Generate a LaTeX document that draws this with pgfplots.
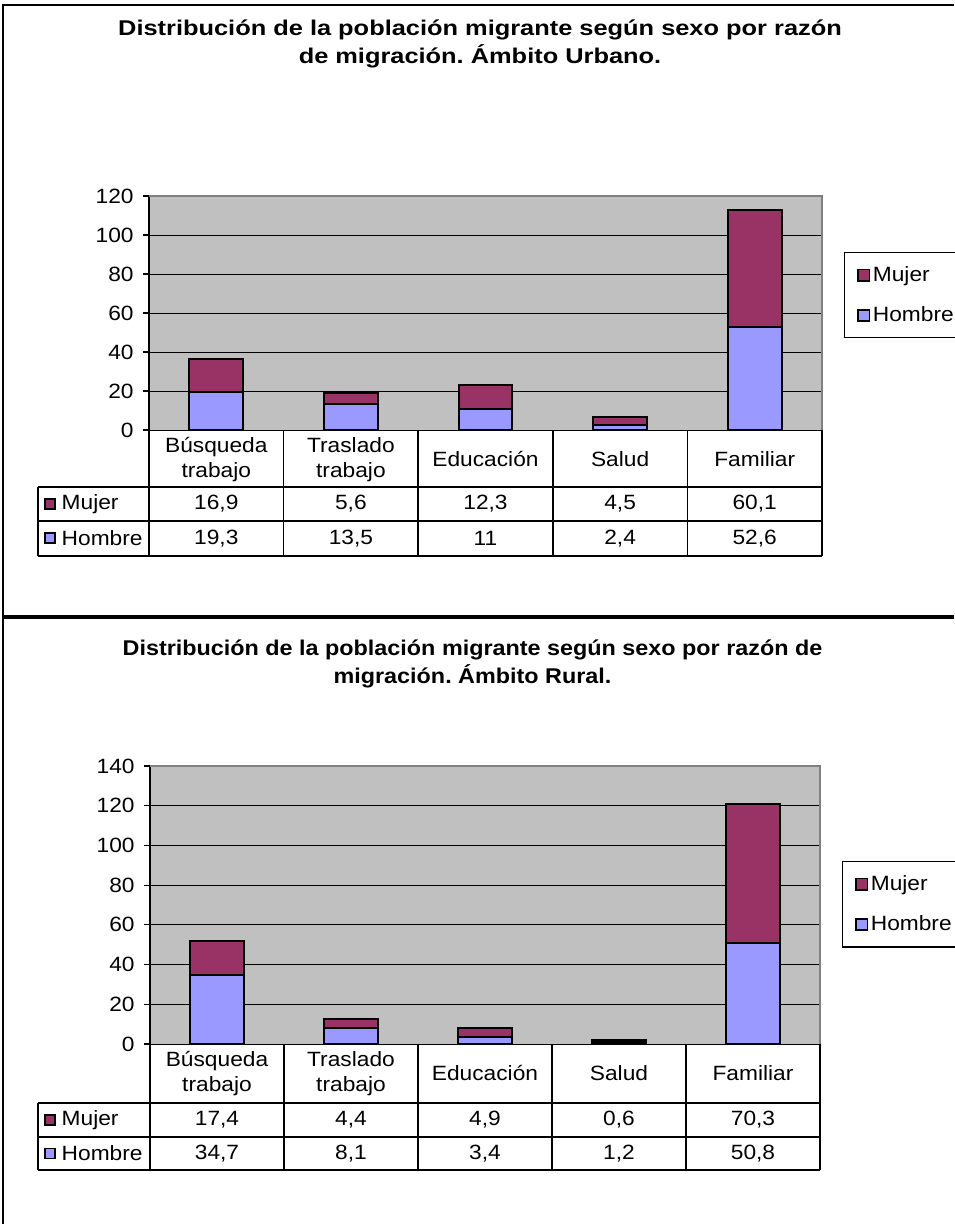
\documentclass[border=0pt]{standalone}
\usepackage{pgfplots}
\pgfplotsset{compat=1.18}
\usepackage{pgfplotstable}
\usepackage{fontspec}
\setmainfont{Liberation Sans}[FakeStretch=1.1]
\newfontfamily\titlefont{Liberation Sans}[FakeStretch=1.19]
\newfontfamily\titlefontb{Liberation Sans}[FakeStretch=1.095]
\frenchspacing

\definecolor{mujer}{HTML}{993366}
\definecolor{hombre}{HTML}{9999FF}
\definecolor{plotbg}{HTML}{C0C0C0}
\definecolor{rim}{HTML}{808080}

\newcommand{\tf}{\fontsize{15.5}{18.75}\selectfont}

% Migrant population by sex and reason (urban / rural)
\pgfplotstableread{
idx hombre mujer
0 19.3 16.9
1 13.5 5.6
2 11 12.3
3 2.4 4.5
4 52.6 60.1
}\urbano
\pgfplotstableread{
idx hombre mujer
0 34.7 17.4
1 8.1 4.4
2 3.4 4.9
3 1.2 0.6
4 50.8 70.3
}\rural

\pgfplotsset{
  migr/.style={
    scale only axis,
    anchor=south west,
    ybar stacked,
    bar width=0.4,
    xmin=-0.5, xmax=4.5,
    ymin=0,
    xtick={0,...,4},
    xticklabels={{Búsqueda\\trabajo},{Traslado\\trabajo},Educación,Salud,Familiar},
    xticklabel style={align=center, anchor=center, font=\tf, yshift=-17.6pt},
    x tick style={draw=none},
    ytick distance=20,
    ymajorgrids,
    major grid style={black, line width=0.6pt},
    y tick style={black, line width=0.8pt},
    tick align=outside,
    ytick pos=left,
    major tick length=4.5pt,
    yticklabel style={font=\tf, xshift=-3.5pt},
    /pgf/number format/assume math mode=true,
    axis background/.style={fill=plotbg},
    axis line style={draw=none},
    clip=false,
    legend cell align=left,
    reverse legend,
    legend style={anchor=north west, draw=black, line width=0.9pt, fill=white,
      font=\tf, inner xsep=9.5pt, inner ysep=8.5pt, row sep=13.5pt},
    legend image code/.code={\draw[##1, draw=black, line width=1.2pt] (0pt,-4.25pt) rectangle (8.5pt,4.25pt);},
  }
}

\begin{document}
\begin{tikzpicture}[x=0.75pt, y=-0.75pt]
\path[use as bounding box] (0,0) rectangle (954,1224);

% outer frame and separator
\draw[line width=1.5pt] (3,1224) -- (3,5) -- (954,5);
\draw[line width=3pt] (3,617) -- (954,617);

% titles
\node[font=\titlefont\bfseries\fontsize{16}{21}\selectfont, align=center] at (480,44)
  {Distribución de la población migrante según sexo por razón\\de migración. Ámbito Urbano.};
\node[font=\titlefontb\bfseries\fontsize{16}{21}\selectfont, align=center] at (472.5,664)
  {Distribución de la población migrante según sexo por razón de\\migración. Ámbito Rural.};

% ---------- urban ----------
\begin{axis}[migr, at={(111.75pt,-322.5pt)}, width=504.75pt, height=175.5pt,
  ymax=120, legend style={at={(axis description cs:1.0327,0.7607)}}]
  \addplot[fill=hombre, draw=black, line width=1.5pt] table[x=idx, y=hombre] {\urbano};
  \addlegendentry{Hombre}
  \addplot[fill=mujer, draw=black, line width=1.5pt] table[x=idx, y=mujer] {\urbano};
  \addlegendentry{Mujer}
  \draw[rim, line width=0.9pt] (rel axis cs:0,1) -- (rel axis cs:1,1) -- (rel axis cs:1,0);
  \draw[black, line width=1.2pt] (rel axis cs:0,0) -- (rel axis cs:0,1);
\end{axis}

% urban data table
\begin{scope}[line width=1.1pt]
  \draw (149,430) -- (149,556);
  \foreach \k in {1,...,5} \draw ({149+134.6*\k},430) -- ({149+134.6*\k},556);
  \draw (38,487) -- (822,487);
  \draw (38,521) -- (822,521);
  \draw (38,556) -- (822,556);
  \draw (38,487) -- (38,556);
  \draw[fill=mujer, line width=1.2pt] (45,499) rectangle (55,509);
  \draw[fill=hombre, line width=1.2pt] (45,533) rectangle (55,543);
  \node[font=\tf, anchor=west, inner xsep=0pt] at (61,504) {Mujer};
  \node[font=\tf, anchor=west, inner xsep=0pt] at (61,538.5) {Hombre};
\end{scope}
\foreach \i in {0,...,4} {
  \pgfplotstablegetelem{\i}{mujer}\of\urbano
  \node[font=\tf] at ({149+134.6*(\i+0.5)},504)
    {\pgfmathprintnumber[fixed, precision=1, use comma, assume math mode=true]{\pgfplotsretval}};
  \pgfplotstablegetelem{\i}{hombre}\of\urbano
  \node[font=\tf] at ({149+134.6*(\i+0.5)},538.5)
    {\pgfmathprintnumber[fixed, precision=1, use comma, assume math mode=true]{\pgfplotsretval}};
}

% ---------- rural ----------
\begin{axis}[migr, at={(112.5pt,-783pt)}, width=502.5pt, height=208.5pt,
  ymax=140, legend style={at={(axis description cs:1.0328,0.658)}}]
  \addplot[fill=hombre, draw=black, line width=1.5pt] table[x=idx, y=hombre] {\rural};
  \addlegendentry{Hombre}
  \addplot[fill=mujer, draw=black, line width=1.5pt] table[x=idx, y=mujer] {\rural};
  \addlegendentry{Mujer}
  \draw[rim, line width=0.9pt] (rel axis cs:0,1) -- (rel axis cs:1,1) -- (rel axis cs:1,0);
  \draw[black, line width=1.2pt] (rel axis cs:0,0) -- (rel axis cs:0,1);
\end{axis}

% rural data table
\begin{scope}[line width=1.1pt]
  \draw (150,1044) -- (150,1170);
  \foreach \k in {1,...,5} \draw ({150+134*\k},1044) -- ({150+134*\k},1170);
  \draw (38,1103) -- (820,1103);
  \draw (38,1137) -- (820,1137);
  \draw (38,1170) -- (820,1170);
  \draw (38,1103) -- (38,1170);
  \draw[fill=mujer, line width=1.2pt] (45,1115) rectangle (55,1125);
  \draw[fill=hombre, line width=1.2pt] (45,1148.5) rectangle (55,1158.5);
  \node[font=\tf, anchor=west, inner xsep=0pt] at (61,1120) {Mujer};
  \node[font=\tf, anchor=west, inner xsep=0pt] at (61,1153.5) {Hombre};
\end{scope}
\foreach \i in {0,...,4} {
  \pgfplotstablegetelem{\i}{mujer}\of\rural
  \node[font=\tf] at ({150+134*(\i+0.5)},1120)
    {\pgfmathprintnumber[fixed, precision=1, use comma, assume math mode=true]{\pgfplotsretval}};
  \pgfplotstablegetelem{\i}{hombre}\of\rural
  \node[font=\tf] at ({150+134*(\i+0.5)},1153.5)
    {\pgfmathprintnumber[fixed, precision=1, use comma, assume math mode=true]{\pgfplotsretval}};
}
\end{tikzpicture}
\end{document}
